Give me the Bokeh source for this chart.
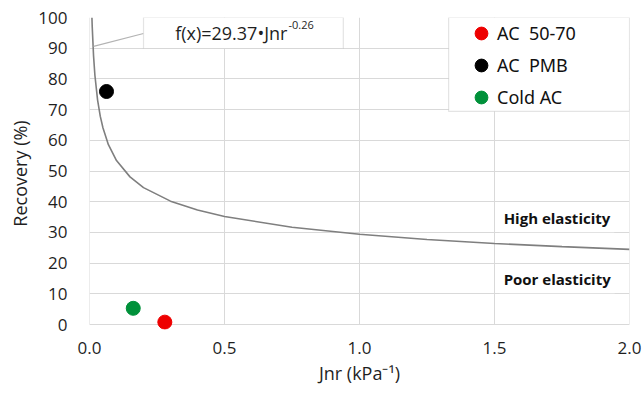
from bokeh.plotting import figure
from bokeh.models import Range1d, FixedTicker, BoxAnnotation, Label, NumeralTickFormatter
from bokeh.embed import file_html
from bokeh.resources import INLINE

# ---- data ----
SERIES = ["AC  50-70", "AC  PMB", "Cold AC"]
JNR = [0.279, 0.063, 0.162]
RECOVERY = [0.8, 75.9, 5.3]
COLORS = ["#ee0000", "#000000", "#00913a"]

CURVE_JNR = [0.009, 0.01, 0.015, 0.02, 0.03, 0.04, 0.05, 0.07, 0.1, 0.15, 0.2,
             0.3, 0.4, 0.5, 0.75, 1.0, 1.25, 1.5, 1.75, 2.0]
CURVE_REC = [100.0, 97.2, 87.5, 81.2, 73.1, 67.8, 64.0, 58.6, 53.4, 48.1, 44.6,
             40.2, 37.3, 35.2, 31.7, 29.4, 27.7, 26.4, 25.4, 24.5]

XTICKS = [0.0, 0.5, 1.0, 1.5, 2.0]
YTICKS = [0, 10, 20, 30, 40, 50, 60, 70, 80, 90, 100]

EQUATION = "f(x)=29.37\u2022Jnr"
EQUATION_EXP = "-0.26"
ZONE_HIGH = "High elasticity"
ZONE_POOR = "Poor elasticity"

GRID = "#d9d9d9"
TEXT = "#1f1f1f"
FONT = "Open Sans"

p = figure(width=644, height=399, x_range=Range1d(XTICKS[0], XTICKS[-1]),
           y_range=Range1d(-1.6, YTICKS[-1]), output_backend="svg",
           toolbar_location=None, min_border_left=89, min_border_right=15,
           min_border_top=17, min_border_bottom=70)
p.outline_line_color = None
p.background_fill_color = "white"
p.border_fill_color = "white"

p.xgrid.visible = False
p.ygrid.ticker = FixedTicker(ticks=YTICKS)
p.ygrid.grid_line_color = GRID

# vertical grid lines bounded to the data area
p.segment(x0=XTICKS, y0=[YTICKS[0]] * len(XTICKS), x1=XTICKS,
          y1=[YTICKS[-1]] * len(XTICKS), line_color=GRID, line_width=1)

for ax in (p.xaxis[0], p.yaxis[0]):
    ax.axis_line_color = None
    ax.major_tick_line_color = None
    ax.minor_tick_line_color = None
    ax.major_tick_out = 0
    ax.major_tick_in = 0
    ax.major_label_text_font = FONT
    ax.major_label_text_font_size = "17px"
    ax.major_label_text_color = TEXT
    ax.axis_label_text_font = FONT
    ax.axis_label_text_font_size = "18px"
    ax.axis_label_text_font_style = "normal"
    ax.axis_label_text_color = TEXT

p.xaxis.ticker = FixedTicker(ticks=XTICKS)
p.xaxis.formatter = NumeralTickFormatter(format="0.0")
p.yaxis.ticker = FixedTicker(ticks=YTICKS)
p.xaxis.axis_label = "Jnr (kPa\u207b\u00b9)"
p.yaxis.axis_label = "Recovery (%)"
p.xaxis.major_label_standoff = 12
p.xaxis.axis_label_standoff = 4
p.yaxis.major_label_standoff = 22
p.yaxis.axis_label_standoff = 3

# fitted curve
p.line(CURVE_JNR, CURVE_REC, line_color="#7f7f7f", line_width=1.6)

# equation call-out
p.add_layout(BoxAnnotation(left=0.2, right=0.94, bottom=89.9, top=100,
                           fill_color="white", fill_alpha=1,
                           line_color="#a6a6a6", line_width=1.2))
p.line([0.2, 0.015], [94.8, 90.6], line_color="#b3b3b3", line_width=1.2)
p.add_layout(Label(x=0.733, y=94.8, text=EQUATION, text_align="right",
                   text_baseline="middle", text_font=FONT,
                   text_font_size="18px", text_color=TEXT))
p.add_layout(Label(x=0.737, y=97.4, text=EQUATION_EXP, text_align="left",
                   text_baseline="middle", text_font=FONT,
                   text_font_size="11px", text_color=TEXT))

# zone labels
for txt, yv in ((ZONE_HIGH, 34.6), (ZONE_POOR, 14.8)):
    p.add_layout(Label(x=1.519, y=yv, text=txt, text_align="left",
                       text_baseline="middle", text_font=FONT,
                       text_font_size="15px", text_font_style="bold",
                       text_color="#111111", background_fill_color="white",
                       background_fill_alpha=1, padding=4))

# legend frame (drawn before the legend)
p.add_layout(BoxAnnotation(left=1.33, right=2.0, bottom=69.4, top=100,
                           fill_color="white", fill_alpha=1,
                           line_color="#a6a6a6", line_width=1.2))

for name, xv, yv, c in zip(SERIES, JNR, RECOVERY, COLORS):
    p.scatter([xv], [yv], size=14, fill_color=c, line_color=c,
              legend_label=name)

lg = p.legend[0]
lg.location = (375, 215)
lg.border_line_alpha = 0
lg.background_fill_alpha = 0
lg.padding = 1
lg.spacing = 0
lg.margin = 0
lg.glyph_width = 32
lg.glyph_height = 32
lg.label_height = 32
lg.label_standoff = 0
lg.label_text_font = "Noto Sans"
lg.label_text_font_size = "18px"
lg.label_text_color = "#111111"

open("out.html", "w").write(file_html(p, INLINE))
